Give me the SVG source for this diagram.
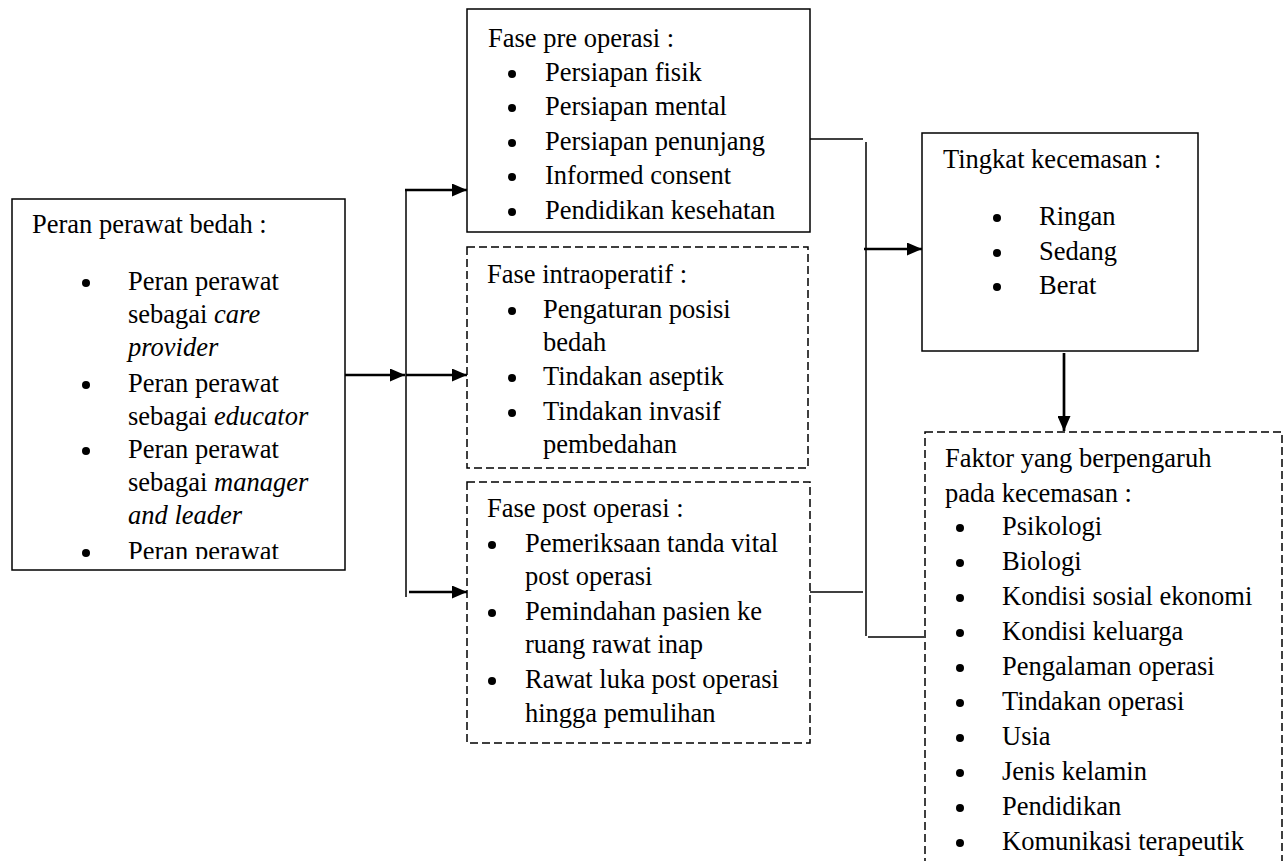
<svg xmlns="http://www.w3.org/2000/svg" width="1286" height="861" viewBox="0 0 1286 861">
<style>
.t{font-family:"Liberation Serif","Times New Roman",serif;font-size:26.5px;fill:#000}
.i{font-style:italic}
.box{fill:#fff;stroke:#000;stroke-width:1.5}
.dash{stroke-dasharray:8 4}
.b{fill:#000}
.ln{fill:none;stroke:#000;stroke-width:1.5}
.ar{fill:none;stroke:#000;stroke-width:2.7}
</style>
<defs>
<marker id="ah" viewBox="0 0 15 13" refX="15" refY="6.5" markerWidth="15" markerHeight="13" markerUnits="userSpaceOnUse" orient="auto">
<path d="M0,0 L15,6.5 L0,13 Z" fill="#000"/>
</marker>
<clipPath id="c1"><rect x="12" y="199" width="333" height="360"/></clipPath>
</defs>
<rect width="1286" height="861" fill="#fff"/>

<g id="peran">
<rect class="box" x="12" y="199" width="333" height="371"/>
<g clip-path="url(#c1)">
<text class="t" x="32" y="233">Peran perawat bedah :</text>
<circle class="b" cx="86" cy="283" r="4"/>
<text class="t" x="128" y="290">Peran perawat</text>
<text class="t" x="128" y="323">sebagai <tspan class="i">care</tspan></text>
<text class="t i" x="128" y="356">provider</text>
<circle class="b" cx="86" cy="385" r="4"/>
<text class="t" x="128" y="392">Peran perawat</text>
<text class="t" x="128" y="425">sebagai <tspan class="i">educator</tspan></text>
<circle class="b" cx="86" cy="451" r="4"/>
<text class="t" x="128" y="458">Peran perawat</text>
<text class="t" x="128" y="491">sebagai <tspan class="i">manager</tspan></text>
<text class="t i" x="128" y="524">and leader</text>
<circle class="b" cx="86" cy="553" r="4"/>
<text class="t" x="128" y="560">Peran perawat</text>
</g>
</g>

<g id="pre">
<rect class="box" x="467" y="9" width="343" height="223"/>
<text class="t" x="488" y="47">Fase pre operasi :</text>
<circle class="b" cx="512" cy="74" r="4"/>
<text class="t" x="545" y="81">Persiapan fisik</text>
<circle class="b" cx="512" cy="108" r="4"/>
<text class="t" x="545" y="115">Persiapan mental</text>
<circle class="b" cx="512" cy="143" r="4"/>
<text class="t" x="545" y="150">Persiapan penunjang</text>
<circle class="b" cx="512" cy="177" r="4"/>
<text class="t" x="545" y="184">Informed consent</text>
<circle class="b" cx="512" cy="212" r="4"/>
<text class="t" x="545" y="219">Pendidikan kesehatan</text>
</g>

<g id="intra">
<rect class="box dash" x="467" y="247" width="341" height="221"/>
<text class="t" x="487" y="283">Fase intraoperatif :</text>
<circle class="b" cx="512" cy="311" r="4"/>
<text class="t" x="543" y="318">Pengaturan posisi</text>
<text class="t" x="543" y="351">bedah</text>
<circle class="b" cx="512" cy="378" r="4"/>
<text class="t" x="543" y="385">Tindakan aseptik</text>
<circle class="b" cx="512" cy="413" r="4"/>
<text class="t" x="543" y="420">Tindakan invasif</text>
<text class="t" x="543" y="453">pembedahan</text>
</g>

<g id="post">
<rect class="box dash" x="467" y="482" width="343" height="261"/>
<text class="t" x="487" y="517">Fase post operasi :</text>
<circle class="b" cx="492" cy="545" r="4"/>
<text class="t" x="525" y="552">Pemeriksaan tanda vital</text>
<text class="t" x="525" y="585">post operasi</text>
<circle class="b" cx="492" cy="613" r="4"/>
<text class="t" x="525" y="620">Pemindahan pasien ke</text>
<text class="t" x="525" y="653">ruang rawat inap</text>
<circle class="b" cx="492" cy="681" r="4"/>
<text class="t" x="525" y="688">Rawat luka post operasi</text>
<text class="t" x="525" y="722">hingga pemulihan</text>
</g>

<g id="tingkat">
<rect class="box" x="922" y="133" width="276" height="218"/>
<text class="t" x="943" y="168">Tingkat kecemasan :</text>
<circle class="b" cx="997" cy="218" r="4"/>
<text class="t" x="1039" y="225">Ringan</text>
<circle class="b" cx="997" cy="253" r="4"/>
<text class="t" x="1039" y="260">Sedang</text>
<circle class="b" cx="997" cy="287" r="4"/>
<text class="t" x="1039" y="294">Berat</text>
</g>

<g id="faktor">
<rect class="box dash" x="925" y="432" width="357" height="460"/>
<text class="t" x="945" y="467">Faktor yang berpengaruh</text>
<text class="t" x="945" y="502">pada kecemasan :</text>
<circle class="b" cx="960" cy="528" r="4"/>
<text class="t" x="1002" y="535">Psikologi</text>
<circle class="b" cx="960" cy="563" r="4"/>
<text class="t" x="1002" y="570">Biologi</text>
<circle class="b" cx="960" cy="598" r="4"/>
<text class="t" x="1002" y="605">Kondisi sosial ekonomi</text>
<circle class="b" cx="960" cy="633" r="4"/>
<text class="t" x="1002" y="640">Kondisi keluarga</text>
<circle class="b" cx="960" cy="668" r="4"/>
<text class="t" x="1002" y="675">Pengalaman operasi</text>
<circle class="b" cx="960" cy="703" r="4"/>
<text class="t" x="1002" y="710">Tindakan operasi</text>
<circle class="b" cx="960" cy="738" r="4"/>
<text class="t" x="1002" y="745">Usia</text>
<circle class="b" cx="960" cy="773" r="4"/>
<text class="t" x="1002" y="780">Jenis kelamin</text>
<circle class="b" cx="960" cy="808" r="4"/>
<text class="t" x="1002" y="815">Pendidikan</text>
<circle class="b" cx="960" cy="843" r="4"/>
<text class="t" x="1002" y="850">Komunikasi terapeutik</text>
</g>

<g id="connectors">
<line class="ar" x1="345" y1="375" x2="405" y2="375" marker-end="url(#ah)"/>
<line class="ln" x1="406" y1="189" x2="406" y2="597"/>
<line class="ar" x1="405" y1="190" x2="467" y2="190" marker-end="url(#ah)"/>
<line class="ar" x1="406" y1="375" x2="467" y2="375" marker-end="url(#ah)"/>
<line class="ar" x1="409" y1="592" x2="467" y2="592" marker-end="url(#ah)"/>
<line class="ln" x1="810" y1="139" x2="863" y2="139"/>
<line class="ln" x1="810" y1="592" x2="863" y2="592"/>
<line class="ln" x1="866" y1="142" x2="866" y2="636"/>
<line class="ln" x1="868" y1="637" x2="924" y2="637"/>
<line class="ar" x1="864" y1="249" x2="922" y2="249" marker-end="url(#ah)"/>
<line class="ar" x1="1064" y1="353" x2="1064" y2="431" marker-end="url(#ah)"/>
</g>
</svg>
